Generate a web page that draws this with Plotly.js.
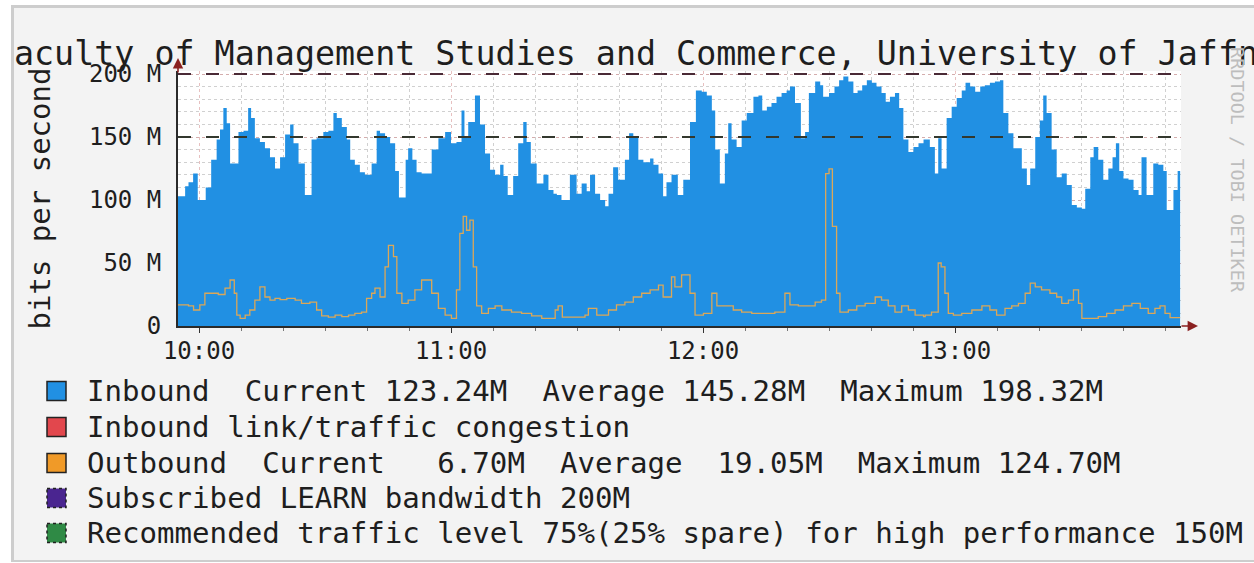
<!DOCTYPE html>
<html><head><meta charset="utf-8">
<script src="https://cdn.plot.ly/plotly-3.0.1.min.js"></script>
<style>
html,body{margin:0;padding:0;background:#ffffff;width:1254px;height:563px;overflow:hidden;}
#frame{position:absolute;left:14px;top:8px;width:1240px;height:552px;overflow:hidden;background:#f3f3f3;}
#chart{position:absolute;left:-14px;top:-8px;width:1254px;height:563px;}
#border{position:absolute;left:11px;top:5px;width:1243px;height:557px;box-sizing:border-box;border-left:3px solid #cdcdcd;border-top:3px solid #cdcdcd;border-bottom:2px solid #cdcdcd;pointer-events:none;}
</style></head>
<body>
<div id="frame"><div id="chart"></div></div>
<div id="border"></div>
<script>
// ---- data (minutes after 09:55, values in Mbit/s) ----
const titleText = 'Faculty of Management Studies and Commerce, University of Jaffna';
const yTickVals = [0, 50, 100, 150, 200];
const yTickText = ['0', '50 M', '100 M', '150 M', '200 M'];

const inMin = [0,1.7,2.5,3.6,4.7,6.6,7.9,9.2,10,10.8,11.6,12.4,14.4,15.6,16.7,17.4,18.3,19.5,20.7,21.9,23.1,24.3,25.5,26.7,27.5,28.7,30.2,31.8,33,34.6,35.8,37,37.8,39,40.2,41,42.1,43.3,44.5,46.1,47.3,48.1,49.3,50.5,51.7,52.6,54.2,54.8,55.8,56.8,58,
60.4,62,63.6,65,66.3,67.5,68.2,69.1,70.7,71.9,73.1,74.3,75.5,76.7,77.5,78.5,79.8,81,82.2,83,84,85.4,87,88.2,89.4,90.2,91.3,93.3,94.9,96.1,97.3,98.1,99.3,100.5,101.7,102.5,103.6,104.8,106.4,107.4,108.4,109.6,110.8,112.4,113.2,114.4,115.5,116.3,117.5,
119,120.3,121.9,123.3,124.7,125.9,127.1,127.9,129,130.2,131,131.8,133,134.2,135.4,137,138.2,139.1,140.2,141.3,142.5,143.7,144.9,145.7,146.9,148.3,149.3,150.2,151.7,152.9,153.6,155,156.3,157.4,158.4,159.6,160.8,161.8,162.9,164,165.2,166.3,167.5,168.5,169.5,170.7,171.7,172.7,173.9,175.1,176.3,177.5,
179,180.2,181,181.8,183,184.2,185.4,186.6,187.5,188.6,189.8,191,192.1,193.3,194.5,195.7,196.5,197.7,198.9,200.9,202.1,202.9,204.1,205.2,206,206.8,208,209.2,210.4,211.6,212.8,214,215.2,216,217.2,218,219.1,220.3,221.5,222.5,223.3,224.1,225.1,226.3,227.5,228.7,229.4,230.6,232.2,233.4,234.6,235.4,237,238,238.6];
const inVal = [103,111,114,121,100,110,132,148,156,173,161,129,154,155,173,165,149,146,141,134,125,134,152,160,145,129,104,148,149,154,155,169,165,158,148,132,128,122,120,129,155,153,150,145,123,102,132,141,132,122,121,
140,149,154,145,146,171,150,162,183,160,137,124,120,128,119,104,119,145,162,146,129,113,120,108,105,104,100,120,105,113,107,120,105,100,95,105,126,116,132,153,150,132,130,133,128,121,103,114,120,
104,116,162,187,186,183,171,140,113,137,161,148,142,163,169,182,183,171,174,177,182,185,187,190,177,149,154,185,194,191,182,185,190,195,198,194,185,187,191,195,193,190,185,178,182,185,173,148,138,142,145,148,
142,121,149,125,165,174,181,187,193,190,186,190,191,193,194,195,169,153,141,125,112,125,150,163,183,169,140,118,121,112,96,94,93,109,134,142,132,116,125,134,145,123,117,116,108,104,134,104,129,128,123,92,108,123,123];

const outMin = [0,2.5,3.7,5.2,6.4,9.6,11.2,12.4,13.4,14,14.8,16,17.1,18.3,19.5,20.7,21.9,23.1,24.3,25.9,27.9,29.4,31.4,33,34.2,35.8,37.4,39,40.6,42.1,43.7,44.9,46.1,46.9,48.1,49.3,50.1,51.3,52.1,53.3,54.8,56.4,58,
60.4,62,63.6,65.1,66.3,67.1,67.9,68.7,69.5,70.3,71.1,72.3,73.9,75.5,77.1,79.4,81.8,84.2,86.6,89.8,90.5,91.5,96.9,97.7,99.7,102.5,104.4,106.4,108.4,110.4,112.4,114.4,115.5,117.5,
118.3,119.9,121.9,123.1,125.1,127.1,128.3,132.2,134.2,136.6,142.1,144.5,145.7,147.7,151.7,153.2,154.2,155,155.8,156.8,157.6,159.6,161.6,163.6,166,167.5,169.1,170.7,172.3,173.9,175.5,177.5,
177.9,179.4,181,181.7,182.6,183.4,184.6,186.6,189,191.4,193.3,194.9,196.9,198.5,200.1,201.7,202.9,204.1,205.6,207.6,209.2,210.4,212,213.2,214.4,215.2,219.1,221.1,223.1,225.1,227.1,229.1,231,232.6,233.8,235,236.2,238.6];
const outVal = [16.7,16,12.7,16.7,26,25,30,36.5,26,8.7,6,8.7,12.7,20.6,31,23,20.6,22,21,22,20.6,18,19,12.7,8,7,8.7,7.4,8.7,10,11,22,26,30,23,47,64,55,26,18,20.6,28.6,36.5,
26,14,8.7,6,28.6,73.5,87,76,84,47,16,10,14,16,12.7,11,10,8,6,12.7,16,7,8.7,14,8.7,12.7,16.7,19,23,26,28.6,32.5,23,39,
31,40.5,26,8.7,10,26,16,12.7,11,10,11,26,16.7,16,19,20.6,121,124.7,79,26,11,12.7,16,18,23,20.6,16,11,16,12.7,8.7,7.4,
8.7,11,50,47,26,10,8.7,10,12.7,16,12.7,8.7,14,16,18,26,34,31,28.6,26,23,18,20.6,28.6,18,6,7.4,10,12.7,16,18,14,10,14,16,10,6.7,6.7];

const subscribed = 200;    // Mbit/s
const recommended = 150;   // Mbit/s
const inStats = ['123.24M', '145.28M', '198.32M'];   // current, average, maximum
const outStats = ['6.70M', '19.05M', '124.70M'];
const legendColors = ['#2190e3', '#e2474d', '#f09a28', '#4a2590', '#2f8a45'];

// ---- helpers ----
const BASE = Date.UTC(2024, 0, 1, 9, 55, 0);
function ts(m) { return new Date(BASE + Math.round(m * 60000)).toISOString().replace('T', ' ').replace('Z', ''); }
const W = 1254, H = 563, L = 178, R = 73, T = 71, B = 237;
const PW = W - L - R, PH = H - T - B;
function px(x) { return (x - L) / PW; }
function py(y) { return (H - B - y) / PH; }
const yTop = (H - T - B) / ((H - B - 74) / 200); // keep 200 M at y=74
const nb = s => s.replace(/ /g, '\u00a0');

const inX = inMin.map(ts), outX = outMin.map(ts);
const xEnd = [inX[0], inX[inX.length - 1]];

const traces = [
  { x: inX, y: inVal, type: 'scatter', mode: 'lines', line: { shape: 'hv', width: 0, color: legendColors[0] },
    fill: 'tozeroy', fillcolor: legendColors[0], hoverinfo: 'skip' },
  { x: outX, y: outVal, type: 'scatter', mode: 'lines', line: { shape: 'hv', width: 1.3, color: '#dca758' }, hoverinfo: 'skip' },
  { x: xEnd, y: [subscribed, subscribed], type: 'scatter', mode: 'lines', line: { width: 2, color: '#4a2a36', dash: '13px,15px' }, hoverinfo: 'skip' },
  { x: xEnd, y: [recommended, recommended], type: 'scatter', mode: 'lines', line: { width: 2, color: '#33382e', dash: '13px,15px' }, hoverinfo: 'skip' }
];

const legendText = [
  'Inbound  Current ' + inStats[0].padStart(7) + '  Average ' + inStats[1].padStart(7) + '  Maximum ' + inStats[2].padStart(7),
  'Inbound link/traffic congestion',
  'Outbound  Current ' + outStats[0].padStart(7) + '  Average ' + outStats[1].padStart(7) + '  Maximum ' + outStats[2].padStart(7),
  'Subscribed LEARN bandwidth ' + subscribed + 'M',
  'Recommended traffic level 75%(25% spare) for high performance ' + recommended + 'M'
];
const rowY = [391, 427, 463, 498, 533];

const annotations = [], shapes = [];
legendText.forEach((t, i) => {
  annotations.push({ xref: 'paper', yref: 'paper', x: px(85), y: py(rowY[i]), xanchor: 'left', yanchor: 'middle',
    text: nb(t), showarrow: false, font: { family: 'DejaVu Sans Mono', size: 29.1, color: '#1e1e1e' } });
  shapes.push({ type: 'rect', xref: 'paper', yref: 'paper', x0: px(47), x1: px(66), y0: py(rowY[i] - 9.5), y1: py(rowY[i] + 9.5),
    fillcolor: legendColors[i], line: { color: '#222', width: 1.5, dash: i >= 3 ? 'dot' : 'solid' } });
});
annotations.push({ xref: 'paper', yref: 'paper', x: px(1238), y: py(170), xanchor: 'center', yanchor: 'middle', textangle: 90, showarrow: false,
  text: 'RRDTOOL / TOBI OETIKER', font: { family: 'DejaVu Sans Mono', size: 18.5, color: '#bdbdbd' } });
annotations.push({ xref: 'paper', yref: 'paper', x: 0, y: py(58), ax: 0, ay: 16, showarrow: true, text: '',
  arrowhead: 2, arrowsize: 1.3, arrowwidth: 1.6, arrowcolor: '#8a2020' });
annotations.push({ xref: 'paper', yref: 'paper', x: px(1198), y: 0, ax: -18, ay: 0, showarrow: true, text: '',
  arrowhead: 2, arrowsize: 1.3, arrowwidth: 1.6, arrowcolor: '#8a2020' });

const layout = {
  width: W, height: H,
  margin: { l: L, r: R, t: T, b: B, pad: 0 },
  paper_bgcolor: 'rgba(0,0,0,0)', plot_bgcolor: '#ffffff',
  showlegend: false,
  font: { family: 'DejaVu Sans Mono', color: '#1e1e1e' },
  title: { text: titleText, font: { family: 'DejaVu Sans Mono', size: 33.35, color: '#1e1e1e' },
    xref: 'container', yref: 'container', x: 636 / W, y: 1 - 53 / H, xanchor: 'center', yanchor: 'middle' },
  xaxis: {
    type: 'date', range: [ts(0), ts(238.8)], automargin: false,
    tickmode: 'linear', tick0: ts(5), dtick: 3600000, tickformat: '%H:%M',
    ticks: 'outside', ticklen: 5, tickcolor: '#333', tickwidth: 1, ticklabelstandoff: -3,
    tickfont: { family: 'DejaVu Sans Mono', size: 24, color: '#1e1e1e' },
    showline: true, linecolor: '#2a2a2a', linewidth: 2, zeroline: false,
    showgrid: true, gridcolor: 'rgba(215,150,150,0.6)', griddash: 'dot', gridwidth: 1,
    minor: { tick0: ts(5), dtick: 600000, ticks: 'outside', ticklen: 3, tickcolor: '#777', showgrid: true,
      gridcolor: 'rgba(170,170,170,0.55)', griddash: 'dot', gridwidth: 1 }
  },
  yaxis: {
    range: [0, yTop], automargin: false,
    tickmode: 'array', tickvals: yTickVals, ticktext: yTickText, ticks: '', ticklabelstandoff: 10,
    tickfont: { family: 'DejaVu Sans Mono', size: 24, color: '#1e1e1e' },
    showline: true, linecolor: '#2a2a2a', linewidth: 2, zeroline: false,
    showgrid: true, gridcolor: 'rgba(215,150,150,0.6)', griddash: 'dot', gridwidth: 1,
    minor: { tick0: 0, dtick: 10, showgrid: true, gridcolor: 'rgba(170,170,170,0.55)', griddash: 'dot', gridwidth: 1 },
    title: { text: 'bits per second', standoff: 30, font: { family: 'DejaVu Sans Mono', size: 29, color: '#1e1e1e' } }
  },
  annotations: annotations,
  shapes: shapes
};

Plotly.newPlot('chart', traces, layout, { staticPlot: true, displayModeBar: false });
</script>
</body></html>
